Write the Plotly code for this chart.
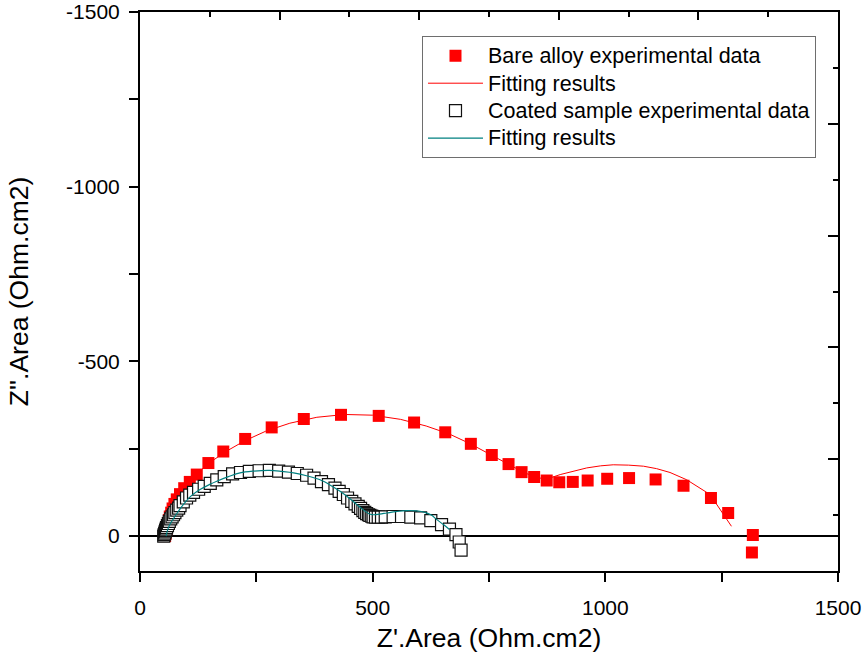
import plotly.graph_objects as go

# Bare alloy: experimental impedance points (Z', Z'')
bare_x = [54, 55, 56, 57, 58, 60, 62, 64, 67, 70, 74, 79, 86, 95, 107, 122, 147, 179, 226,
          283, 352, 432, 513, 589, 656, 711, 756, 792, 820, 847, 874, 901, 930, 962, 1004,
          1051, 1108, 1168, 1227, 1264, 1317, 1315]
bare_y = [0, -6, -13, -20, -28, -37, -46, -56, -67, -79, -92, -105, -120, -137, -155, -176,
          -209, -242, -278, -311, -335, -347, -344, -325, -297, -264, -232, -206, -183, -169,
          -159, -154, -155, -159, -164, -166, -162, -144, -109, -66, -3, 47]

# Bare alloy: equivalent-circuit fit
bare_fit_x = [54, 56, 58, 61, 65, 70, 77, 86, 98, 113, 132, 156, 186, 224, 270, 322, 380, 440,
              500, 560, 615, 665, 710, 752, 790, 822, 850, 874, 903, 930, 960, 990, 1017, 1050,
              1082, 1110, 1139, 1175, 1200, 1225, 1271]
bare_fit_y = [0, -12, -25, -40, -58, -78, -98, -120, -142, -165, -190, -216, -243, -272, -300,
              -323, -340, -348, -346, -334, -315, -292, -264, -234, -207, -184, -168, -163, -176,
              -186, -195, -201, -204, -203, -200, -193, -182, -161, -141, -119, -28]

# Coated sample: experimental impedance points
coated_x = [51, 52, 53, 54, 55, 56, 57, 59, 61, 63, 66, 69, 72, 75, 79, 83, 86, 93, 100, 107,
            115, 126, 138, 151, 165, 181, 199, 216, 235, 256, 278, 298, 319, 338, 358, 374, 390,
            405, 419, 428, 437, 446, 455, 462, 469, 474, 479, 483, 487, 491, 494, 498, 501, 506,
            512, 519, 527, 544, 562, 582, 603, 625, 648, 665, 679, 686, 690]
coated_y = [0, -4, -8, -12, -16, -20, -24, -30, -36, -42, -49, -55, -61, -67, -74, -80, -87, -98,
            -109, -117, -125, -134, -142, -151, -161, -170, -178, -182, -185, -187, -188, -186,
            -183, -179, -174, -166, -156, -147, -137, -128, -119, -109, -99, -92, -85, -79, -73,
            -68, -64, -61, -59, -57, -55, -54, -54, -54, -55, -56, -56, -54, -52, -44, -33, -20,
            -4, 17, 40]

# Coated sample: equivalent-circuit fit
coated_fit_x = [56, 60, 65, 72, 80, 93, 110, 129, 150, 165, 190, 215, 245, 278, 305, 330, 360,
                387, 410, 430, 450, 466, 480, 492, 502, 515, 530, 550, 573, 595, 612, 626, 638,
                652, 665]
coated_fit_y = [0, -20, -35, -50, -66, -90, -115, -133, -148, -157, -170, -181, -186, -188, -185,
                -181, -172, -161, -145, -128, -108, -90, -75, -64, -61, -63, -66, -70, -73, -72,
                -68, -60, -47, -33, -19]

# Axis ticks (unlabelled entries are the intermediate ticks)
x_ticks = [0, 250, 500, 750, 1000, 1250, 1500]
x_tick_text = ["0", "", "500", "", "1000", "", "1500"]
y_ticks = [0, -250, -500, -750, -1000, -1250, -1500]
y_tick_text = ["0", "", "-500", "", "-1000", "", "-1500"]
# tick positions of the top and right frame edges
top_ticks = [0, 300, 600, 900, 1200, 1500]
top_minor_ticks = [150, 450, 750, 1050, 1350]
right_ticks = [0, 1, 2, 3, 4, 5]
right_minor_ticks = [0.5, 1.5, 2.5, 3.5, 4.5]

FONT = "Liberation Sans, Arial, sans-serif"
RED = "#ff0000"
TEAL = "#008080"


def legend_label(text):
    return '<span style="font-size:21.5px">' + text + "</span>"


def minor_ticks(vals, direction, length=5):
    return dict(ticks=direction, ticklen=length, tickwidth=2, tickcolor="black",
                tickmode="array", tickvals=vals, showgrid=False)


fig = go.Figure()
fig.add_trace(go.Scatter(
    x=bare_x, y=bare_y, mode="markers", name=legend_label("Bare alloy experimental data"),
    marker=dict(symbol="square", size=12, color=RED, line=dict(width=0)),
))
fig.add_trace(go.Scatter(
    x=bare_fit_x, y=bare_fit_y, mode="lines", name=legend_label("Fitting results"),
    line=dict(color=RED, width=1),
))
fig.add_trace(go.Scatter(
    x=coated_x, y=coated_y, mode="markers",
    name=legend_label("Coated sample experimental data"),
    marker=dict(symbol="square", size=12, color="white", line=dict(width=1.2, color="#111111")),
))
fig.add_trace(go.Scatter(
    x=coated_fit_x, y=coated_fit_y, mode="lines", name=legend_label("Fitting results"),
    line=dict(color=TEAL, width=1.2, shape="spline"),
))
# empty trace on a transparent twin subplot that carries the top/right frame ticks
fig.add_trace(go.Scatter(x=[], y=[], xaxis="x2", yaxis="y2", mode="markers",
                         showlegend=False, hoverinfo="skip"))

axis_font = dict(family=FONT, size=21, color="black")
title_font = dict(family=FONT, size=26.5, color="black")

fig.update_layout(
    width=863, height=653,
    margin=dict(l=140, r=25, t=12, b=82, autoexpand=False),
    paper_bgcolor="white", plot_bgcolor="rgba(0,0,0,0)",
    font=dict(family=FONT, color="black"),
    showlegend=True,
    legend=dict(
        x=0.404, y=0.957, xanchor="left", yanchor="top",
        bgcolor="white", bordercolor="#6e6e6e", borderwidth=1,
        font=dict(family=FONT, size=18.8, color="black"),
        tracegroupgap=0, itemwidth=55,
    ),
    xaxis=dict(
        domain=[0, 1], range=[0, 1500], tickmode="array", tickvals=x_ticks,
        ticktext=x_tick_text,
        ticks="outside", ticklen=9, tickwidth=2, tickcolor="black",
        ticklabelstandoff=8, automargin=False,
        showline=True, linecolor="black", linewidth=2, mirror=True,
        showgrid=False, zeroline=False, tickfont=axis_font,
        title=dict(text="Z'.Area (Ohm.cm2)", font=title_font, standoff=14),
    ),
    yaxis=dict(
        domain=[0, 1], range=[100, -1500], tickmode="array", tickvals=y_ticks,
        ticktext=y_tick_text,
        ticks="outside", ticklen=9, tickwidth=2, tickcolor="black",
        ticklabelstandoff=5, automargin=False,
        showline=True, linecolor="black", linewidth=2, mirror=True,
        showgrid=False, zeroline=True, zerolinecolor="black", zerolinewidth=2,
        tickfont=axis_font,
        title=dict(text="Z''.Area (Ohm.cm2)", font=title_font, standoff=30),
    ),
    xaxis2=dict(
        domain=[0, 1], anchor="y2", side="top", range=[0, 1500], automargin=False,
        tickmode="array", tickvals=top_ticks, ticks="inside", ticklen=8, tickwidth=2,
        tickcolor="black", showticklabels=False, showline=False, showgrid=False,
        zeroline=False, minor=minor_ticks(top_minor_ticks, "inside"),
    ),
    yaxis2=dict(
        domain=[0, 1], anchor="x2", side="right", range=[0, 5], automargin=False,
        tickmode="array", tickvals=right_ticks, ticks="inside", ticklen=10, tickwidth=2,
        tickcolor="black", showticklabels=False, showline=False, showgrid=False,
        zeroline=False, minor=minor_ticks(right_minor_ticks, "inside"),
    ),
)

fig.write_html("out.html")
